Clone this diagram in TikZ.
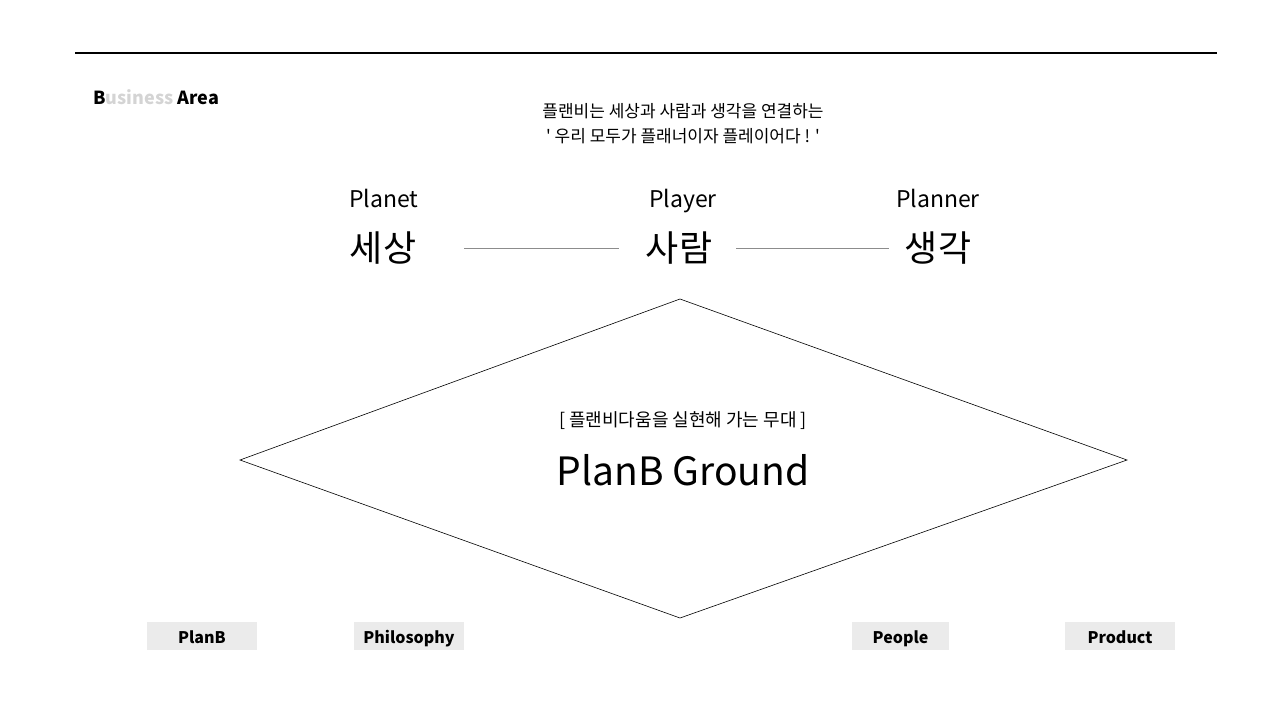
\documentclass[tikz,border=0pt]{standalone}
\usepackage{fontspec}
\usepackage{xcolor}
\setmainfont[Ligatures=TeXOff]{Noto Sans CJK KR}
\definecolor{lightgrey}{HTML}{D4D4D4}
\definecolor{tagfill}{HTML}{EBEBEB}
\definecolor{linkgrey}{HTML}{8C8C8C}
\newcommand{\px}[1]{\fontsize{#1pt}{#1pt}\selectfont}

\begin{document}
\begin{tikzpicture}[x=1pt,y=-1pt]
		\tikzstyle{every node}+=[inner sep=0pt]
		\tikzstyle{engword}=[font=\px{23},text height=17pt,text depth=1.4pt]
		\tikzstyle{korword}=[font=\px{36},text height=30pt,text depth=2.6pt]
		\tikzstyle{introline}=[font=\px{17},text height=13.6pt,text depth=1pt]
		\tikzstyle{tagbox}=[fill=tagfill,minimum height=28pt,font=\px{16}\bfseries,text height=15pt,text depth=0.2pt]
		\tikzstyle{link}=[linkgrey,line width=0.9pt]
		\useasboundingbox (0,0) rectangle (1280,720);
		\draw [black,line width=1.3pt] (75,53) -- (1217,53);
		\node [anchor=base west,font=\px{18}\bfseries] (area) at (93,104) {B\textcolor{lightgrey}{usiness} Area};
		\node [introline] (introa) at (683,111) {플랜비는 세상과 사람과 생각을 연결하는};
		\node [introline] (introb) at (683,136) {' 우리 모두가 플래너이자 플레이어다 ! '};
		\node [engword] (planet) at (384,200) {Planet};
		\node [engword] (player) at (683,200) {Player};
		\node [engword] (planner) at (938,200) {Planner};
		\node [korword] (sesang) at (383,248) {세상};
		\node [korword] (saram) at (679,248) {사람};
		\node [korword] (saenggak) at (938,248) {생각};
		\draw [link,shorten <=48pt,shorten >=27pt] (sesang) -- (saram);
		\draw [link,shorten <=24pt,shorten >=16pt] (saram) -- (saenggak);
		% ground diamond
		\coordinate (gtop) at (680,299);
		\coordinate (gright) at (1127,460);
		\coordinate (gbottom) at (680,618);
		\coordinate (gleft) at (240,460);
		\draw [black,line width=0.6pt] (gtop) -- (gright) -- (gbottom) -- (gleft) -- cycle;
		\node [font=\px{18},text height=14.4pt,text depth=1pt] (stage) at (683,420) {[ 플랜비다움을 실현해 가는 무대 ]};
		\node [font=\px{39},text height=30pt,text depth=3pt] (ground) at (683,472) {PlanB Ground};
		% tags
		\node [tagbox,minimum width=110pt] (planb) at (202,636) {PlanB};
		\node [tagbox,minimum width=110pt] (philosophy) at (409,636) {Philosophy};
		\node [tagbox,minimum width=97pt] (people) at (900.5,636) {People};
		\node [tagbox,minimum width=110pt] (product) at (1120,636) {Product};
\end{tikzpicture}
\end{document}
